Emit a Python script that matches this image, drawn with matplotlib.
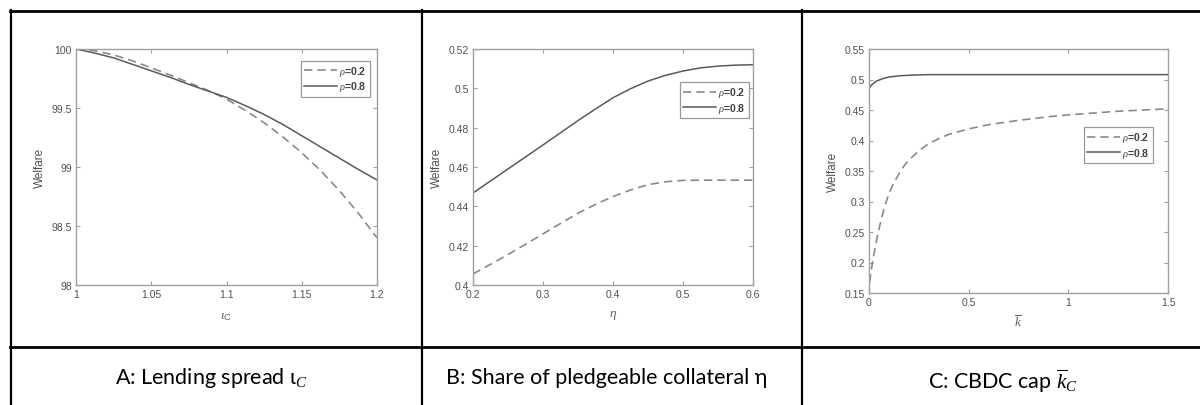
import numpy as np
import matplotlib
matplotlib.use('Agg')
import matplotlib.pyplot as plt
from matplotlib.lines import Line2D

plt.rcParams['font.family'] = ['Liberation Sans', 'DejaVu Sans']
plt.rcParams['mathtext.fontset'] = 'custom'
plt.rcParams['mathtext.rm'] = 'Liberation Sans'
plt.rcParams['mathtext.it'] = 'Liberation Serif:italic'

# ---- data ------------------------------------------------------------
# A: lending spread iota_C
iota = [1.0, 1.0125, 1.025, 1.0375, 1.05, 1.0625, 1.075, 1.0875, 1.1,
        1.1125, 1.125, 1.1375, 1.15, 1.1625, 1.175, 1.1875, 1.2]
wA_rho02 = [100.0, 99.985, 99.95, 99.90, 99.84, 99.78, 99.715, 99.65, 99.575,
            99.48, 99.375, 99.255, 99.12, 98.97, 98.80, 98.61, 98.40]
wA_rho08 = [100.0, 99.965, 99.925, 99.87, 99.815, 99.76, 99.70, 99.645, 99.59,
            99.52, 99.445, 99.36, 99.265, 99.17, 99.075, 98.98, 98.89]

# B: share of pledgeable collateral eta
eta = [0.2, 0.225, 0.25, 0.275, 0.3, 0.325, 0.35, 0.375, 0.4,
       0.425, 0.45, 0.475, 0.5, 0.525, 0.55, 0.575, 0.6]
wB_rho02 = [0.4056, 0.4105, 0.4155, 0.4207, 0.4260, 0.4313, 0.4365, 0.4410,
            0.4450, 0.4483, 0.4510, 0.4525, 0.4532, 0.4533, 0.4533, 0.4533,
            0.4533]
wB_rho08 = [0.4468, 0.4529, 0.4590, 0.4651, 0.4712, 0.4774, 0.4836, 0.4895,
            0.4952, 0.4998, 0.5037, 0.5066, 0.5088, 0.5104, 0.5113, 0.5118,
            0.5120]

# C: CBDC cap k-bar
kbar = [0.003, 0.01, 0.02, 0.035, 0.05, 0.075, 0.1, 0.125, 0.15, 0.175, 0.2,
        0.25, 0.3, 0.35, 0.4, 0.5, 0.6, 0.75, 0.9, 1.0, 1.25, 1.5]
wC_rho02 = [0.167, 0.185, 0.205, 0.232, 0.255, 0.288, 0.313, 0.331, 0.345,
            0.358, 0.368, 0.383, 0.395, 0.403, 0.410, 0.419, 0.426, 0.433,
            0.439, 0.442, 0.448, 0.452]
wC_rho08 = [0.487, 0.490, 0.493, 0.497, 0.499, 0.502, 0.504, 0.505, 0.506,
            0.5065, 0.507, 0.5075, 0.508, 0.508, 0.508, 0.508, 0.508, 0.508,
            0.508, 0.508, 0.508, 0.508]

captions = [r'A: Lending spread ι$_{\mathit{C}}$',
            'B: Share of pledgeable collateral η',
            r'C: CBDC cap $\overline{k}_{\mathit{C}}$']

W, H = 1200, 406
fig = plt.figure(figsize=(W / 100, H / 100), dpi=100)


def px_axes(l, t, r, b):
    return fig.add_axes([l / W, 1 - b / H, (r - l) / W, (b - t) / H])


def matlab_style(ax):
    for s in ax.spines.values():
        s.set_color('#a0a0a0')
        s.set_linewidth(1.0)
    ax.tick_params(direction='in', top=True, right=True, length=3,
                   width=0.8, color='#a0a0a0', labelcolor='#505050',
                   labelsize=7.5, pad=3)
    ax.set_ylabel('Welfare', fontsize=8.5, color='#505050')


dash_c = '#8a8a8a'
solid_c = '#5a5a5a'

panels = [
    dict(box=(76, 50, 377, 286), x=iota, y2=wA_rho02, y8=wA_rho08,
         xlim=(1, 1.2), ylim=(98, 100), xt=[1, 1.05, 1.1, 1.15, 1.2],
         xtl=['1', '1.05', '1.1', '1.15', '1.2'],
         yt=[98, 98.5, 99, 99.5, 100], ytl=['98', '98.5', '99', '99.5', '100'],
         xlabel=r'$\iota_{\mathrm{C}}$', lpad=8, leg=(0.977, 0.95)),
    dict(box=(473, 50, 753, 286), x=eta, y2=wB_rho02, y8=wB_rho08,
         xlim=(0.2, 0.6), ylim=(0.4, 0.52), xt=[0.2, 0.3, 0.4, 0.5, 0.6],
         xtl=['0.2', '0.3', '0.4', '0.5', '0.6'],
         yt=[0.4, 0.42, 0.44, 0.46, 0.48, 0.5, 0.52],
         ytl=['0.4', '0.42', '0.44', '0.46', '0.48', '0.5', '0.52'],
         xlabel=r'$\eta$', lpad=6, leg=(0.986, 0.86)),
    dict(box=(869, 50, 1168, 294), x=kbar, y2=wC_rho02, y8=wC_rho08,
         xlim=(0, 1.5), ylim=(0.15, 0.55), xt=[0, 0.5, 1, 1.5],
         xtl=['0', '0.5', '1', '1.5'],
         yt=[0.15, 0.2, 0.25, 0.3, 0.35, 0.4, 0.45, 0.5, 0.55],
         ytl=['0.15', '0.2', '0.25', '0.3', '0.35', '0.4', '0.45', '0.5', '0.55'],
         xlabel=r'$\overline{k}$', lpad=5, leg=(0.95, 0.68)),
]

for p in panels:
    ax = px_axes(*p['box'])
    ax.plot(p['x'], p['y2'], '--', color=dash_c, lw=1.2, dashes=(5, 3),
            label=r'$\rho$=0.2')
    ax.plot(p['x'], p['y8'], '-', color=solid_c, lw=1.1, label=r'$\rho$=0.8')
    ax.set_xlim(*p['xlim'])
    ax.set_ylim(*p['ylim'])
    ax.set_xticks(p['xt'])
    ax.set_xticklabels(p['xtl'])
    ax.set_yticks(p['yt'])
    ax.set_yticklabels(p['ytl'])
    matlab_style(ax)
    ax.set_xlabel(p['xlabel'], fontsize=9.5, color='#606060',
                  labelpad=p['lpad'])
    leg = ax.legend(loc='upper right', bbox_to_anchor=p['leg'], fontsize=7.5,
                    frameon=True, fancybox=False, handlelength=3.2,
                    handletextpad=0.2, borderpad=0.3, labelspacing=0.15,
                    borderaxespad=0)
    leg.get_frame().set_edgecolor('#808080')
    leg.get_frame().set_linewidth(0.9)
    for t in leg.get_texts():
        t.set_color('#404040')
        t.set_fontweight('bold')

# table grid lines
def hline(y, x0, x1, lw):
    fig.add_artist(Line2D([x0 / W, x1 / W], [1 - y / H, 1 - y / H],
                          color='black', lw=lw, transform=fig.transFigure))


def vline(x, y0, y1, lw):
    fig.add_artist(Line2D([x / W, x / W], [1 - y0 / H, 1 - y1 / H],
                          color='black', lw=lw, transform=fig.transFigure))


hline(12, 10, 1200, 2.0)
hline(347.5, 10, 1200, 2.0)
vline(11, 11, 406, 1.6)
vline(422, 11, 406, 1.6)
vline(802, 11, 406, 1.6)

cap_x = [211, 607, 1003]
cap_y = [378, 378, 381]
for cx, cy, txt in zip(cap_x, cap_y, captions):
    fig.text(cx / W, 1 - cy / H, txt, ha='center', va='center',
             fontsize=15.5, family=['Lato', 'DejaVu Sans'], color='black')

fig.savefig('out.png', dpi=100)
